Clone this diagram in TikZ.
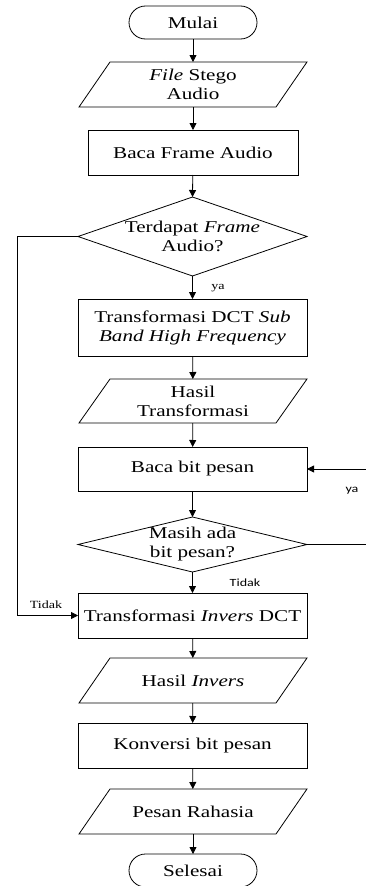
\documentclass[tikz,border=0pt]{standalone}
\usepackage{fontspec}
\setmainfont{Liberation Serif}[FakeStretch=1.28]
\newfontfamily\lblsans{Carlito}[FakeStretch=1.28]
\usetikzlibrary{arrows.meta}
\newcommand{\mainsz}{\fontsize{16.5}{19}\selectfont}
\newcommand{\lblsz}{\fontsize{11}{13}\selectfont}
\begin{document}
\begin{tikzpicture}[x=1pt,y=-1pt,
  line width=0.8pt,
  every node/.style={outer sep=0pt, inner sep=2pt},
  arr/.style={-{Triangle[length=7pt,width=7pt]}},
  term/.style={draw, rounded corners=16.5pt, minimum width=128pt, minimum height=33pt, font=\mainsz},
  proc/.style={draw, minimum width=229pt, minimum height=45pt, align=center, font=\mainsz},
  iobox/.style={minimum width=197pt, minimum height=45pt, align=center, font=\mainsz},
  decbox/.style={minimum width=229pt, align=center, font=\mainsz},
  lbl/.style={font=\lblsz},
  slbl/.style={font=\lblsans\lblsz}]
\useasboundingbox (0,0) rectangle (365,886);

% main column
\node[term] (start) at (193,22.5) {Mulai};
\node[iobox] (in1) at (193,84.5) {\textit{File} Stego\\Audio};
\node[proc, minimum width=210pt] (b1) at (193,152.5) {Baca Frame Audio};
\node[decbox, minimum height=79pt] (q1) at (192.5,236.5) {Terdapat \textit{Frame}\\Audio?};
\node[proc, minimum height=57pt] (t1) at (192.5,327.5) {Transformasi DCT \textit{Sub}\\\textit{Band High Frequency}};
\node[iobox, minimum height=44pt] (io2) at (193,401) {Hasil\\Transformasi};
\node[proc, minimum height=44pt] (b2) at (192.5,469) {Baca bit pesan};
\node[decbox, minimum height=55pt] (q2) at (192.5,544.5) {Masih ada\\bit pesan?};
\node[proc] (t2) at (192.5,615.5) {Transformasi \textit{Invers} DCT};
\node[iobox] (io3) at (193,680.5) {Hasil \textit{Invers}};
\node[proc] (k1) at (192.5,745.5) {Konversi bit pesan};
\node[iobox] (io4) at (193,811.5) {Pesan Rahasia};
\node[term] (stop) at (193,870.5) {Selesai};

% input/output parallelograms
\foreach \n in {in1,io2,io3,io4}
  \draw ([xshift=15.5pt]\n.north west) -- ([xshift=15.5pt]\n.north east)
     -- ([xshift=-15.5pt]\n.south east) -- ([xshift=-15.5pt]\n.south west) -- cycle;
% decision diamonds
\foreach \n in {q1,q2}
  \draw (\n.north) -- (\n.east) -- (\n.south) -- (\n.west) -- cycle;

% flow
\draw[arr] (start) -- (in1);
\draw[arr] (in1) -- (b1);
\draw[arr] (b1) -- (q1.north);
\draw[arr] (q1.south) -- (t1);
\draw[arr] (t1) -- (io2);
\draw[arr] (io2) -- (b2);
\draw[arr] (b2) -- (q2.north);
\draw[arr] (q2.south) -- (t2);
\draw[arr] (t2) -- (io3);
\draw[arr] (io3) -- (k1);
\draw[arr] (k1) -- (io4);
\draw[arr] (io4) -- (stop);

% loops
\coordinate (lx) at (17,0);
\coordinate (rx) at (372,0);
\draw[arr] (q1.west) -- (q1.west -| lx) |- (t2.west);
\draw[arr] (q2.east) -- (q2.east -| rx) |- (b2.east);

% branch labels
\node[lbl] (lya) at (218,288) {ya};
\node[slbl] (rya) at (352,491) {ya};
\node[slbl] (rtidak) at (245,583) {Tidak};
\node[lbl] (ltidak) at (46,605) {Tidak};
\end{tikzpicture}
\end{document}
